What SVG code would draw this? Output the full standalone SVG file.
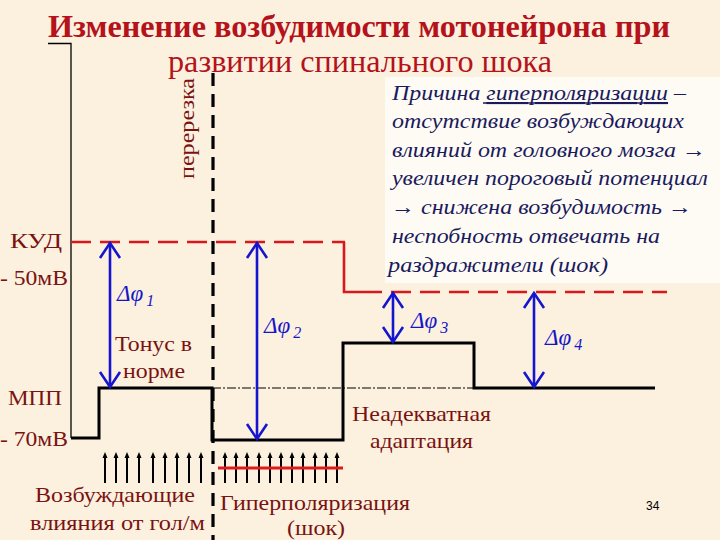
<svg xmlns="http://www.w3.org/2000/svg" width="720" height="540" viewBox="0 0 720 540">
<style>
.title{font-family:"Liberation Serif","DejaVu Serif",serif;fill:#B5121B}
.lbl{font-family:"Liberation Serif","DejaVu Serif",serif;font-size:21px;fill:#7A1212}
.box{font-family:"Liberation Serif","DejaVu Serif",serif;font-style:italic;font-size:21px;fill:#1A1A5C}
.dphi{font-family:"Liberation Serif","DejaVu Serif",serif;font-style:italic;font-size:23px;fill:#1515C8}
.sub{font-size:16px}
.blue{stroke:#1515D0;stroke-width:2.6;fill:none}
.kud{stroke:#D8181E;stroke-width:2.6;fill:none;stroke-dasharray:20 9}
.step{stroke:#000;stroke-width:3;fill:none}
.small{stroke:#000;stroke-width:2;fill:none;marker-end:url(#ah)}
</style>
<defs>
<marker id="ah" markerWidth="6" markerHeight="6" refX="3" refY="3" orient="auto" markerUnits="userSpaceOnUse">
<path d="M0,0.5 L6,3 L0,5.5 Z" fill="#000"/>
</marker>
</defs>
<rect width="720" height="540" fill="#FBF1DE"/>
<g id="textbox">
<rect x="385" y="77" width="335" height="206" fill="#FEFBF5"/>
<text class="box" font-family="Liberation Serif, serif" x="392" y="100" textLength="294" lengthAdjust="spacingAndGlyphs">Причина <tspan text-decoration="underline">гиперполяризации</tspan> –</text>
<line x1="483" y1="103" x2="667" y2="103" stroke="#1A1A5C" stroke-width="1.3"/>
<text class="box" font-family="Liberation Serif, serif" x="392" y="128" textLength="292" lengthAdjust="spacingAndGlyphs">отсутствие возбуждающих</text>
<text class="box" font-family="Liberation Serif, serif" x="392" y="157" textLength="314" lengthAdjust="spacingAndGlyphs">влияний от головного мозга →</text>
<text class="box" font-family="Liberation Serif, serif" x="392" y="185" textLength="316" lengthAdjust="spacingAndGlyphs">увеличен пороговый потенциал</text>
<text class="box" font-family="Liberation Serif, serif" x="391" y="214" textLength="301" lengthAdjust="spacingAndGlyphs">→ снижена возбудимость →</text>
<text class="box" font-family="Liberation Serif, serif" x="392" y="243" textLength="268" lengthAdjust="spacingAndGlyphs">неспобность отвечать на</text>
<text class="box" font-family="Liberation Serif, serif" x="388" y="272" textLength="220" lengthAdjust="spacingAndGlyphs">раздражители (шок)</text>
</g>
<g id="title">
<text class="title" font-family="Liberation Serif, serif" x="48" y="37" font-size="32" font-weight="bold" textLength="622" lengthAdjust="spacingAndGlyphs">Изменение возбудимости мотонейрона при</text>
<text class="title" font-family="Liberation Serif, serif" x="168" y="72" font-size="32" textLength="384" lengthAdjust="spacingAndGlyphs">развитии спинального шока</text>
</g>
<g id="axis">
<polyline points="48,43.5 71,43.5 71,438" stroke="#000" stroke-width="1.3" fill="none"/>
</g>
<g id="connectors">
<line x1="213" y1="73" x2="213" y2="540" stroke="#000" stroke-width="3.2" stroke-dasharray="13 8"/>
<polyline class="kud" points="71,242 345,242"/>
<polyline points="344,242 344,292 362,292" stroke="#D8181E" stroke-width="2.6" fill="none"/>
<line class="kud" x1="362" y1="292" x2="667" y2="292"/>
<line x1="212" y1="388" x2="474" y2="388" stroke="#000" stroke-width="1" stroke-dasharray="9 2 2 2"/>
<polyline class="step" points="71,438 99,438 99,388 212,388 212,440 343,440 343,343 474,343 474,388 655,388"/>
<g id="dphi1-arrow">
<line class="blue" x1="110" y1="243" x2="110" y2="387"/>
<polyline class="blue" points="100,258 110,243 120,258"/>
<polyline class="blue" points="100,372 110,387 120,372"/>
</g>
<g id="dphi2-arrow">
<line class="blue" x1="257" y1="243" x2="257" y2="439"/>
<polyline class="blue" points="247,258 257,243 267,258"/>
<polyline class="blue" points="247,424 257,439 267,424"/>
</g>
<g id="dphi3-arrow">
<line class="blue" x1="393" y1="293" x2="393" y2="342"/>
<polyline class="blue" points="383,308 393,293 403,308"/>
<polyline class="blue" points="383,327 393,342 403,327"/>
</g>
<g id="dphi4-arrow">
<line class="blue" x1="534" y1="293" x2="534" y2="387"/>
<polyline class="blue" points="524,308 534,293 544,308"/>
<polyline class="blue" points="524,372 534,387 544,372"/>
</g>
<g id="excit-arrows">
<line class="small" x1="105" y1="483" x2="105" y2="455"/>
<line class="small" x1="116" y1="483" x2="116" y2="455"/>
<line class="small" x1="127" y1="483" x2="127" y2="455"/>
<line class="small" x1="139" y1="483" x2="139" y2="455"/>
<line class="small" x1="153" y1="483" x2="153" y2="455"/>
<line class="small" x1="165" y1="483" x2="165" y2="455"/>
<line class="small" x1="177" y1="483" x2="177" y2="455"/>
<line class="small" x1="189" y1="483" x2="189" y2="455"/>
<line class="small" x1="201" y1="483" x2="201" y2="455"/>
</g>
<g id="shock-arrows">
<line class="small" x1="225" y1="483" x2="225" y2="455"/>
<line class="small" x1="236" y1="483" x2="236" y2="455"/>
<line class="small" x1="247" y1="483" x2="247" y2="455"/>
<line class="small" x1="259" y1="483" x2="259" y2="455"/>
<line class="small" x1="270" y1="483" x2="270" y2="455"/>
<line class="small" x1="281" y1="483" x2="281" y2="455"/>
<line class="small" x1="292" y1="483" x2="292" y2="455"/>
<line class="small" x1="303" y1="483" x2="303" y2="455"/>
<line class="small" x1="315" y1="483" x2="315" y2="455"/>
<line class="small" x1="326" y1="483" x2="326" y2="455"/>
<line class="small" x1="337" y1="483" x2="337" y2="455"/>
<line x1="218" y1="468" x2="343" y2="468" stroke="#E01A1A" stroke-width="3"/>
</g>
</g>
<g id="labels">
<text class="lbl" x="188" y="179" transform="rotate(-90 188 179)" font-size="20" textLength="101" lengthAdjust="spacingAndGlyphs" dy="6">перерезка</text>
<text class="lbl" x="10" y="248" textLength="52" lengthAdjust="spacingAndGlyphs">КУД</text>
<text class="lbl" x="0" y="285" textLength="68" lengthAdjust="spacingAndGlyphs">- 50мВ</text>
<text class="lbl" x="8" y="405" textLength="54" lengthAdjust="spacingAndGlyphs">МПП</text>
<text class="lbl" x="0" y="446" textLength="68" lengthAdjust="spacingAndGlyphs">- 70мВ</text>
<text class="lbl" x="115" y="351" textLength="77" lengthAdjust="spacingAndGlyphs">Тонус в</text>
<text class="lbl" x="123" y="378" textLength="62" lengthAdjust="spacingAndGlyphs">норме</text>
<text class="lbl" x="352" y="421" textLength="139" lengthAdjust="spacingAndGlyphs">Неадекватная</text>
<text class="lbl" x="370" y="448" textLength="103" lengthAdjust="spacingAndGlyphs">адаптация</text>
<text class="lbl" x="35" y="502" textLength="160" lengthAdjust="spacingAndGlyphs">Возбуждающие</text>
<text class="lbl" x="30" y="530" textLength="175" lengthAdjust="spacingAndGlyphs">влияния от гол/м</text>
<text class="lbl" x="220" y="510" textLength="190" lengthAdjust="spacingAndGlyphs">Гиперполяризация</text>
<text class="lbl" x="287" y="535" textLength="58" lengthAdjust="spacingAndGlyphs">(шок)</text>
<text x="646" y="510" font-family="Liberation Sans, sans-serif" font-size="12" fill="#000">34</text>
<text class="dphi" x="117" y="301">Δφ<tspan class="sub" dx="3" dy="5">1</tspan></text>
<text class="dphi" x="264" y="333">Δφ<tspan class="sub" dx="3" dy="5">2</tspan></text>
<text class="dphi" x="411" y="328">Δφ<tspan class="sub" dx="3" dy="5">3</tspan></text>
<text class="dphi" x="545" y="345">Δφ<tspan class="sub" dx="3" dy="5">4</tspan></text>
</g>
</svg>
